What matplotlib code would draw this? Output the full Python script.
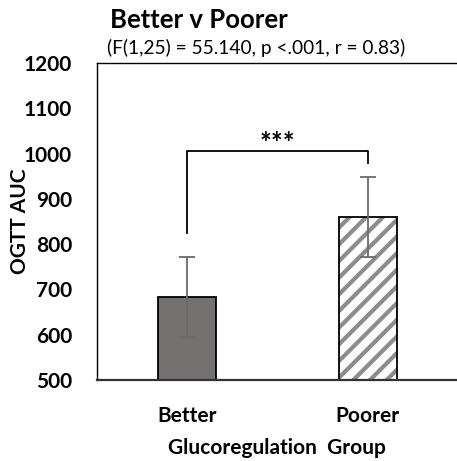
import matplotlib
matplotlib.use("Agg")
import matplotlib.pyplot as plt

plt.rcParams['font.family'] = ['Lato', 'DejaVu Sans']
plt.rcParams['hatch.linewidth'] = 3.0

groups = ["Better", "Poorer"]
means = [683, 860]
errors = [88, 88]
yticks = [500, 600, 700, 800, 900, 1000, 1100, 1200]
title = "Better v Poorer"
stats_text = "(F(1,25) = 55.140, p <.001, r = 0.83)"
bracket_levels = [824, 1005, 979]  # left foot, top, right foot

fig = plt.figure(figsize=(4.57, 4.61), dpi=100)
ax = fig.add_axes([97 / 457, 1 - 380 / 461, 361 / 457, 317 / 461])

x = list(range(len(groups)))
# hatched fill drawn first in grey, outlines drawn on top in black
fill = ax.bar(x, means, width=0.32, color=['#767171', 'white'],
              edgecolor=['#767171', '#8c8c8c'], linewidth=0, zorder=2)
fill[1].set_hatch('//')
ax.bar(x, means, width=0.32, color='none', edgecolor='black',
       linewidth=1.3, zorder=2.5)
ax.errorbar(x, means, yerr=errors, fmt='none', ecolor='#6a6a6a',
            elinewidth=1.3, capsize=6, capthick=1.3, zorder=3)

ax.set_xlim(-0.5, 1.5)
ax.set_ylim(500, 1200)
ax.set_yticks(yticks)
ax.set_yticklabels([str(v) for v in yticks], fontsize=15, fontweight='bold')
ax.set_xticks(x)
ax.set_xticklabels(groups, fontsize=15, fontweight='bold')
ax.tick_params(axis='both', length=0)
ax.tick_params(axis='y', pad=18)
ax.tick_params(axis='x', pad=19)

ax.spines['right'].set_visible(False)
ax.spines['top'].set_linewidth(1.0)
ax.spines['left'].set_linewidth(1.0)
ax.spines['bottom'].set_linewidth(1.6)
ax.spines['bottom'].set_color('#333333')

ax.set_ylabel("OGTT AUC", fontsize=15, fontweight='bold', va='center')
ax.yaxis.set_label_coords(-(97 - 20) / 361, (380 - 221) / 317)
ax.set_xlabel("Glucoregulation  Group", fontsize=15, fontweight='bold', va='center')
ax.xaxis.set_label_coords((277 - 97) / 361, -(448 - 380) / 317)

# significance bracket
ax.plot([0, 0, 1, 1], bracket_levels[:1] + [bracket_levels[1]] * 2 + bracket_levels[2:],
        color='black', linewidth=1.3, zorder=4)
ax.text(0.5, bracket_levels[1] - 13, "***", ha='center', va='bottom',
        fontsize=20, fontweight='bold')

fig.text(110 / 457, 1 - 20 / 461, title, fontsize=18.5, fontweight='bold',
         ha='left', va='center')
fig.text(107 / 457, 1 - 48 / 461, stats_text, fontsize=13.8,
         ha='left', va='center')

fig.savefig("out.png", dpi=100)
